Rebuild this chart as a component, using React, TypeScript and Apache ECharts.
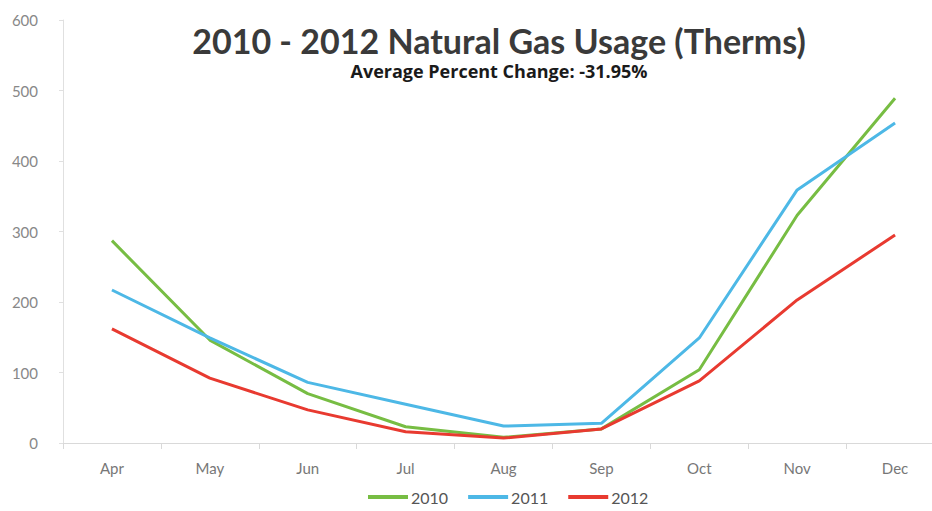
import React, { useEffect, useRef } from "react";
import * as echarts from "echarts";

const months = ["Apr", "May", "Jun", "Jul", "Aug", "Sep", "Oct", "Nov", "Dec"];
const usage2010 = [287, 146, 70, 23, 8, 20, 104, 323, 489];
const usage2011 = [217, 149, 86, 55, 24, 28, 149, 359, 454];
const usage2012 = [162, 92, 47, 16, 7, 20, 88, 203, 295];
const yTicks = { min: 0, max: 600, interval: 100 };

const FONT = "Lato, 'Open Sans', sans-serif";

export default function App() {
  const ref = useRef<HTMLDivElement>(null);
  useEffect(() => {
    const chart = echarts.init(ref.current!, undefined, { renderer: "svg" });
    const mk = (name: string, data: number[], color: string) => ({
      name,
      type: "line",
      data,
      showSymbol: false,
      symbol: "none",
      lineStyle: { width: 3, color },
      itemStyle: { color },
    });
    chart.setOption({
      animation: false,
      backgroundColor: "#ffffff",
      title: {
        text: "2010 - 2012 Natural Gas Usage (Therms)",
        subtext: "Average Percent Change: -31.95%",
        left: 494,
        textAlign: "center",
        top: 18,
        itemGap: 5,
        textStyle: { fontFamily: FONT, fontSize: 34, fontWeight: "bold", color: "#3a3a3a" },
        subtextStyle: { fontFamily: "'Open Sans', sans-serif", fontSize: 18, fontWeight: "bold", color: "#1a1a1a" },
      },
      legend: {
        bottom: 1,
        left: 363,
        icon: "rect",
        itemWidth: 40,
        itemHeight: 4,
        itemGap: 20,
        textStyle: { fontFamily: FONT, fontSize: 16, color: "#555", padding: [0, 0, 0, -2] },
        data: ["2010", "2011", "2012"],
      },
      grid: { left: 63, top: 20, width: 881, height: 423, outerBoundsMode: "none", containLabel: false },
      xAxis: {
        type: "category",
        data: months,
        boundaryGap: true,
        axisLine: { lineStyle: { color: "#d9d9d9", width: 1 } },
        axisTick: { show: true, length: 6, lineStyle: { color: "#d9d9d9" } },
        axisLabel: { fontFamily: FONT, fontSize: 15, color: "#777", margin: 17 },
      },
      yAxis: {
        type: "value",
        min: yTicks.min,
        max: yTicks.max,
        interval: yTicks.interval,
        axisLine: { show: true, lineStyle: { color: "#e0e0e0" } },
        axisTick: { show: true, length: 4, lineStyle: { color: "#e0e0e0" } },
        splitLine: { show: false },
        axisLabel: { fontFamily: FONT, fontSize: 15, color: "#888", margin: 25 },
      },
      series: [
        mk("2010", usage2010, "#77bd43"),
        mk("2011", usage2011, "#4db8e6"),
        mk("2012", usage2012, "#e83a30"),
      ],
    });
    return () => chart.dispose();
  }, []);
  return (
    <div
      ref={ref}
      style={{ position: "fixed", left: 0, top: 0, width: 932, height: 511, background: "#fff" }}
    />
  );
}
